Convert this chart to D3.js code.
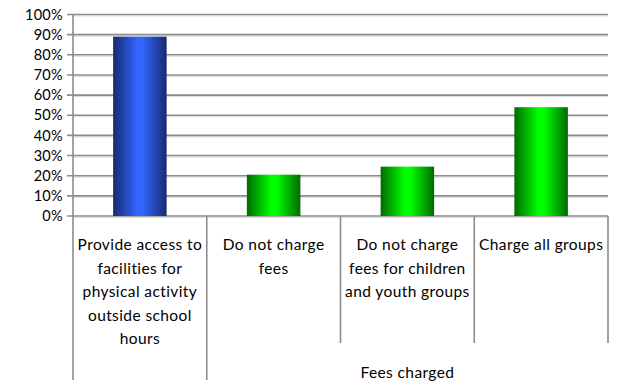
<!DOCTYPE html>
<html>
<head>
<meta charset="utf-8">
<script src="https://cdn.jsdelivr.net/npm/d3@7"></script>
<style>
  body { margin: 0; background: #fff; }
  text { font-family: Lato, "Open Sans", sans-serif; fill: #000; }
</style>
</head>
<body>
<div id="chart"></div>
<script>
// data
var categories = ["access", "nofees", "noyouth", "chargeall"];
var values = [0.89, 0.205, 0.245, 0.54];
var labelLines = [
  ["Provide access to", "facilities for", "physical activity", "outside school", "hours"],
  ["Do not charge", "fees"],
  ["Do not charge", "fees for children", "and youth groups"],
  ["Charge all groups"]
];
var groupLabel = "Fees charged";
var yTicks = [0, 0.1, 0.2, 0.3, 0.4, 0.5, 0.6, 0.7, 0.8, 0.9, 1.0];

var width = 617, height = 383;
var plotLeft = 73, plotRight = 608, plotTop = 14.5, plotBottom = 216;

var svg = d3.select("#chart").append("svg")
  .attr("width", width)
  .attr("height", height);

var defs = svg.append("defs");
function grad(id, edge, mid) {
  var g = defs.append("linearGradient").attr("id", id)
    .attr("x1", "0%").attr("x2", "100%").attr("y1", "0%").attr("y2", "0%");
  g.append("stop").attr("offset", "0%").attr("stop-color", edge);
  g.append("stop").attr("offset", "45%").attr("stop-color", mid);
  g.append("stop").attr("offset", "55%").attr("stop-color", mid);
  g.append("stop").attr("offset", "100%").attr("stop-color", edge);
}
grad("blueGrad", "#172a6e", "#3366ff");
grad("greenGrad", "#006a00", "#00ff00");

var x = d3.scaleBand().domain(categories).range([plotLeft, plotRight]).padding(0);
var y = d3.scaleLinear().domain([0, 1]).range([plotBottom, plotTop]);

// gridlines
var grid = svg.append("g");
grid.selectAll("line.shadow").data(yTicks).enter().append("line")
  .attr("class", "shadow")
  .attr("x1", plotLeft).attr("x2", plotRight)
  .attr("y1", d => y(d) + 1.5).attr("y2", d => y(d) + 1.5)
  .attr("stroke", "#dcdcdc").attr("stroke-width", 1);
grid.selectAll("line.main").data(yTicks).enter().append("line")
  .attr("class", "main")
  .attr("x1", plotLeft - 6).attr("x2", plotRight)
  .attr("y1", d => y(d)).attr("y2", d => y(d))
  .attr("stroke", "#8c8c8c").attr("stroke-width", 1.6);

// y labels
svg.append("g").selectAll("text").data(yTicks).enter().append("text")
  .attr("x", 63)
  .attr("y", d => y(d))
  .attr("dy", "0.36em")
  .attr("text-anchor", "end")
  .style("font-size", "14.5px")
  .style("letter-spacing", "0.3px")
  .text(d => d3.format(".0%")(d));

// y axis line
svg.append("line")
  .attr("x1", plotLeft).attr("x2", plotLeft)
  .attr("y1", plotTop).attr("y2", plotBottom)
  .attr("stroke", "#8c8c8c").attr("stroke-width", 1.6);

// bars
var barW = x.bandwidth() * 0.4;
svg.append("g").selectAll("rect").data(values).enter().append("rect")
  .attr("x", (d, i) => x(categories[i]) + x.bandwidth() / 2 - barW / 2)
  .attr("y", d => y(d))
  .attr("width", barW)
  .attr("height", d => plotBottom - y(d))
  .attr("fill", (d, i) => i === 0 ? "url(#blueGrad)" : "url(#greenGrad)");

// category dividers
var dividers = svg.append("g").attr("stroke", "#8c8c8c").attr("stroke-width", 1.6);
categories.forEach(function(c, i) {
  var xx = x(c);
  var yEnd = (i <= 1) ? 380 : 343;
  dividers.append("line").attr("x1", xx).attr("x2", xx).attr("y1", plotBottom).attr("y2", yEnd);
});
dividers.append("line").attr("x1", plotRight).attr("x2", plotRight).attr("y1", plotBottom).attr("y2", 343);

// category labels
categories.forEach(function(c, i) {
  var t = svg.append("text")
    .attr("text-anchor", "middle")
    .style("font-size", "15.5px")
    .style("letter-spacing", "0.4px");
  labelLines[i].forEach(function(line, j) {
    t.append("tspan")
      .attr("x", x(c) + x.bandwidth() / 2)
      .attr("y", 250 + j * 23.5)
      .text(line);
  });
});

// group label
svg.append("text")
  .attr("x", (x(categories[1]) + plotRight) / 2)
  .attr("y", 378)
  .attr("text-anchor", "middle")
  .style("font-size", "15.5px")
  .style("letter-spacing", "0.4px")
  .text(groupLabel);
</script>
</body>
</html>
